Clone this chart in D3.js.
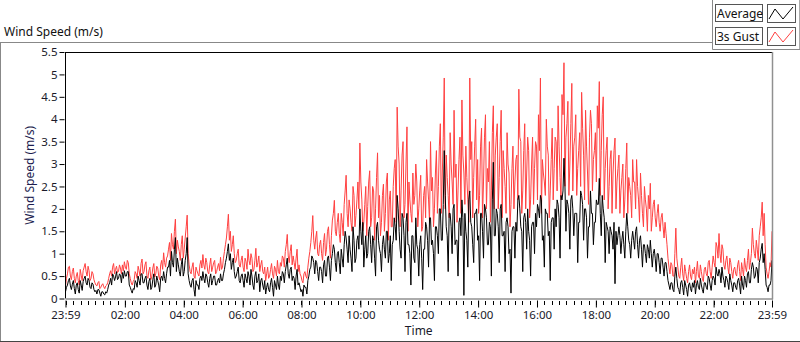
<!DOCTYPE html>
<html>
<head>
<meta charset="utf-8">
<script src="https://cdn.jsdelivr.net/npm/d3@7"></script>
<style>
  body { margin: 0; background: #fff; }
  text { font-family: "Noto Sans", "Open Sans", sans-serif; }
</style>
</head>
<body>
<div id="chart"></div>
<script>
// samples every 2 minutes from 23:59 to 23:59 the next day.
// "gust"/"average" hold the even samples, "...Mid" the samples in between.
const stepMinutes = 2;

const gust = [
  0.28, 0.55, 0.72, 0.42, 0.68, 0.35, 0.58, 0.3, 0.52, 0.62,
  0.78, 0.5, 0.62, 0.45, 0.55, 0.35, 0.28, 0.38, 0.25, 0.33,
  0.22, 0.3, 0.45, 0.62, 0.7, 0.55, 0.72, 0.6, 0.68, 0.75,
  0.82, 0.65, 0.8, 0.45, 0.3, 0.42, 0.55, 0.72, 0.5, 0.88,
  0.6, 0.82, 0.45, 0.7, 0.5, 0.78, 0.55, 0.68, 0.42, 0.85,
  1.02, 0.7, 0.95, 1.25, 1.45, 1.1, 1.77, 1.3, 1.05, 1.2,
  0.9, 1.35, 1.86, 0.75, 0.55, 0.8, 0.45, 0.62, 0.5, 0.85,
  0.98, 0.65, 0.8, 0.55, 0.9, 0.7, 0.85, 0.6, 0.78, 0.92,
  0.7, 1.05, 1.35, 1.88, 1.5, 1.2, 1.0, 0.85, 1.1, 0.7,
  0.95, 0.6, 0.82, 1.1, 0.75, 0.9, 0.65, 1.12, 0.8, 0.6,
  0.85, 0.55, 0.4, 0.7, 0.5, 0.78, 0.45, 0.65, 0.85, 0.55,
  0.72, 0.9, 1.05, 1.43, 0.8, 1.2, 0.95, 0.65, 1.1, 0.75,
  0.5, 0.35, 0.6, 0.45, 0.9, 1.25, 1.85, 1.1, 1.5, 0.95,
  1.3, 0.85, 1.45, 1.1, 1.6, 0.9, 1.75, 2.19, 1.4, 1.9,
  1.25, 1.7, 2.1, 2.75, 1.6, 2.0, 1.5, 2.3, 1.85, 2.6,
  3.47, 2.2, 1.7, 2.5, 2.05, 2.85, 1.8, 2.4, 2.0, 3.25,
  2.3, 1.7, 2.55, 1.9, 2.8, 2.2, 1.6, 2.5, 3.1, 4.27,
  3.0, 2.4, 3.5, 2.1, 3.83, 2.6, 1.9, 2.8, 2.3, 2.6,
  2.0, 2.75, 1.6, 2.5, 3.1, 2.2, 3.5, 2.7, 2.0, 3.3,
  2.5, 3.9, 2.8, 4.92, 3.2, 2.3, 3.7, 2.6, 4.2, 3.0,
  2.4, 3.6, 4.43, 2.8, 3.4, 2.2, 4.92, 3.5, 2.7, 4.0,
  3.1, 2.3, 3.8, 2.6, 4.1, 2.9, 3.5, 2.4, 4.3, 3.2,
  3.9, 2.7, 4.2, 3.3, 2.5, 3.7, 2.8, 2.1, 3.4, 2.6,
  3.2, 4.67, 3.5, 2.4, 3.9, 2.8, 3.3, 2.2, 3.6, 2.9,
  3.4, 4.1, 4.92, 3.1, 2.6, 4.0, 3.2, 2.4, 3.8, 2.9,
  3.5, 4.3, 2.7, 4.55, 5.26, 3.6, 4.4, 3.0, 4.8, 3.4,
  4.1, 2.9, 3.7, 4.6, 3.2, 4.2, 2.8, 3.6, 3.9, 3.1,
  3.7, 4.3, 4.84, 3.3, 4.5, 2.9, 3.6, 2.5, 3.3, 2.8,
  3.58, 2.6, 3.2, 2.4, 3.0, 2.2, 3.47, 2.7, 2.3, 3.1,
  2.6, 3.1, 2.2, 2.8, 1.9, 2.5, 2.0, 2.3, 2.57, 1.8,
  2.2, 1.6, 2.1, 1.5, 1.9, 1.35, 1.45, 0.9, 0.55, 0.75,
  0.5, 1.57, 0.7, 0.45, 0.9, 0.4, 0.6, 0.35, 0.75, 0.42,
  0.55, 0.35, 0.83, 0.45, 0.6, 0.38, 0.7, 0.5, 0.85, 0.45,
  0.95, 0.7, 1.15, 1.45, 0.8, 1.1, 0.65, 0.95, 0.55, 0.8,
  0.45, 0.7, 0.5, 0.85, 0.4, 0.65, 0.9, 0.6, 1.1, 0.8,
  1.57, 1.0, 1.3, 0.85, 1.6, 2.15, 1.9, 0.7, 0.45, 0.8, 1.5
];

const gustMid = [
  0.45, 0.7, 0.5, 0.6, 0.45, 0.5, 0.4, 0.65, 0.4, 0.7,
  0.6, 0.72, 0.4, 0.6, 0.42, 0.3, 0.35, 0.22, 0.3, 0.26,
  0.28, 0.35, 0.55, 0.5, 0.78, 0.65, 0.58, 0.75, 0.55, 0.62,
  0.7, 0.85, 0.55, 0.35, 0.38, 0.6, 0.45, 0.62, 0.78, 0.55,
  0.75, 0.5, 0.62, 0.42, 0.68, 0.48, 0.72, 0.5, 0.75, 0.65,
  0.8, 0.9, 1.1, 0.85, 1.2, 1.5, 1.0, 1.15, 0.85, 1.4,
  1.1, 1.6, 1.0, 0.6, 0.7, 0.5, 0.7, 0.55, 0.75, 0.68,
  0.75, 0.9, 0.6, 0.75, 0.6, 0.8, 0.55, 0.7, 0.62, 0.65,
  0.9, 1.2, 1.6, 1.3, 1.05, 1.4, 0.8, 1.0, 0.75, 0.85,
  0.7, 0.9, 0.65, 0.85, 1.0, 0.6, 0.85, 0.7, 0.95, 0.75,
  0.6, 0.7, 0.55, 0.45, 0.65, 0.55, 0.72, 0.5, 0.6, 0.8,
  0.95, 0.7, 1.2, 0.95, 1.05, 0.75, 0.8, 0.9, 0.6, 0.55,
  0.4, 0.55, 0.5, 0.7, 1.05, 1.5, 1.3, 1.35, 1.0, 1.2,
  1.0, 1.25, 0.95, 1.5, 1.2, 1.4, 1.9, 1.5, 1.7, 1.45,
  1.9, 1.4, 2.4, 1.9, 2.2, 1.7, 2.5, 1.6, 2.2, 2.0,
  2.6, 1.5, 2.1, 1.4, 2.6, 1.6, 2.5, 1.3, 2.7, 1.8,
  1.4, 2.3, 1.5, 2.6, 1.3, 2.4, 1.6, 2.9, 1.7, 3.4,
  1.6, 3.2, 1.8, 3.0, 1.5, 2.2, 1.7, 2.1, 3.0, 1.6,
  2.4, 1.5, 2.3, 1.8, 2.6, 1.7, 2.4, 1.6, 2.8, 1.9,
  3.4, 1.9, 3.6, 2.0, 2.7, 1.8, 3.0, 2.1, 2.7, 1.7,
  3.1, 1.9, 3.2, 2.1, 2.7, 1.7, 3.1, 1.8, 3.4, 2.2,
  1.9, 3.4, 1.8, 3.6, 2.0, 2.6, 1.7, 3.7, 2.0, 3.6,
  2.0, 3.5, 1.8, 2.9, 1.9, 3.0, 1.6, 2.9, 2.0, 3.1,
  2.2, 3.6, 1.9, 3.3, 2.0, 3.6, 1.8, 3.0, 2.1, 3.5,
  2.2, 3.3, 1.9, 2.8, 2.3, 3.4, 1.8, 3.1, 2.2, 3.6,
  2.4, 3.4, 2.2, 4.1, 2.5, 3.9, 2.3, 3.9, 2.4, 3.6,
  2.3, 3.3, 2.5, 3.8, 2.2, 3.4, 2.1, 4.2, 2.4, 3.3,
  2.6, 3.8, 2.3, 4.1, 2.2, 3.3, 2.0, 3.1, 1.9, 3.3,
  2.0, 2.9, 1.9, 2.7, 1.8, 2.9, 1.9, 2.5, 1.8, 2.6,
  2.0, 2.5, 1.7, 2.3, 1.6, 2.2, 1.5, 2.0, 1.5, 2.1,
  1.8, 1.9, 1.7, 1.8, 1.6, 1.7, 1.2, 0.7, 0.8, 0.5,
  1.0, 0.9, 0.5, 0.7, 0.55, 0.75, 0.45, 0.6, 0.5, 0.65,
  0.7, 0.6, 0.5, 0.75, 0.45, 0.65, 0.55, 0.8, 0.6, 0.7,
  0.8, 1.25, 0.9, 1.0, 1.2, 0.75, 0.85, 0.7, 0.9, 0.6,
  0.65, 0.55, 0.75, 0.6, 0.8, 0.5, 0.7, 0.85, 0.65, 1.0,
  1.2, 0.9, 1.1, 1.4, 1.8, 1.4, 1.2, 0.55, 0.6, 0.7
];

const average = [
  0.15, 0.3, 0.45, 0.2, 0.4, 0.1, 0.35, 0.12, 0.3, 0.38,
  0.5, 0.3, 0.4, 0.22, 0.32, 0.15, 0.1, 0.2, 0.05, 0.15,
  0.08, 0.12, 0.3, 0.45, 0.55, 0.4, 0.6, 0.45, 0.52, 0.58,
  0.62, 0.5, 0.6, 0.25, 0.12, 0.2, 0.35, 0.5, 0.3, 0.55,
  0.35, 0.5, 0.2, 0.45, 0.25, 0.55, 0.3, 0.4, 0.15, 0.5,
  0.6, 0.35, 0.7, 0.85, 1.05, 0.7, 1.36, 0.9, 0.6, 0.75,
  0.5, 0.85, 1.36, 0.4, 0.25, 0.45, 0.05, 0.3, 0.2, 0.5,
  0.6, 0.35, 0.5, 0.25, 0.55, 0.4, 0.5, 0.3, 0.45, 0.55,
  0.4, 0.65, 0.9, 1.22, 1.0, 0.8, 0.6, 0.5, 0.7, 0.35,
  0.55, 0.25, 0.45, 0.6, 0.3, 0.5, 0.2, 0.6, 0.4, 0.15,
  0.45, 0.2, 0.1, 0.35, 0.15, 0.45, 0.05, 0.3, 0.5, 0.2,
  0.4, 0.55, 0.6, 0.9, 0.45, 0.7, 0.5, 0.2, 0.65, 0.35,
  0.15, 0.05, 0.25, 0.1, 0.5, 0.7, 0.9, 0.55, 0.8, 0.4,
  0.7, 0.35, 0.85, 0.5, 0.95, 0.4, 1.0, 1.1, 0.6, 1.05,
  0.55, 0.9, 1.2, 1.35, 0.8, 1.1, 0.6, 1.3, 0.9, 1.4,
  2.0, 1.2, 0.7, 1.4, 1.0, 1.6, 0.8, 1.3, 0.5, 1.7,
  1.1, 0.6, 1.4, 0.9, 1.5, 1.0, 0.4, 1.3, 1.6, 2.3,
  1.5, 0.9, 1.8, 0.6, 1.9, 1.2, 0.3, 1.4, 0.8, 1.2,
  0.5, 1.4, 0.2, 1.1, 1.6, 0.7, 1.8, 1.3, 0.4, 1.6,
  1.0, 2.0, 1.3, 3.3, 1.6, 0.6, 1.9, 1.0, 2.1, 1.3,
  0.5, 1.8, 2.2, 0.07, 1.5, 0.7, 2.4, 1.6, 0.8, 1.9,
  1.3, 0.4, 1.9, 0.9, 2.0, 1.2, 1.7, 0.5, 3.04, 1.4,
  1.9, 0.8, 2.1, 1.4, 0.6, 1.8, 1.0, 0.12, 1.6, 0.9,
  1.5, 2.3, 1.6, 0.6, 1.9, 1.1, 1.5, 0.5, 1.7, 1.0,
  1.6, 2.0, 2.3, 1.3, 0.7, 1.9, 1.4, 0.4, 1.8, 1.1,
  1.6, 2.1, 0.9, 2.2, 3.13, 1.5, 2.1, 1.1, 2.3, 1.4,
  1.9, 0.8, 1.7, 2.3, 1.3, 2.0, 0.9, 1.6, 1.9, 1.2,
  1.7, 2.1, 2.68, 1.4, 2.0, 0.8, 1.6, 1.0, 1.5, 1.1,
  0.33, 1.2, 1.6, 1.0, 1.5, 0.9, 1.9, 1.3, 0.9, 1.5,
  1.1, 1.6, 0.9, 1.4, 0.7, 1.2, 0.8, 1.1, 1.3, 0.7,
  1.1, 0.6, 1.0, 0.55, 0.9, 0.5, 0.8, 0.4, 0.2, 0.35,
  0.15, 0.7, 0.25, 0.1, 0.4, 0.08, 0.3, 0.05, 0.35, 0.15,
  0.25, 0.1, 0.4, 0.2, 0.3, 0.12, 0.35, 0.2, 0.45, 0.18,
  0.5, 0.3, 0.55, 0.65, 0.35, 0.5, 0.25, 0.45, 0.2, 0.4,
  0.15, 0.35, 0.2, 0.45, 0.1, 0.3, 0.5, 0.25, 0.6, 0.35,
  0.8, 0.45, 0.7, 0.35, 0.9, 1.23, 1.0, 0.3, 0.15, 0.3, 0.85
];

const averageMid = [
  0.25, 0.4, 0.28, 0.32, 0.22, 0.3, 0.2, 0.4, 0.18, 0.45,
  0.35, 0.45, 0.25, 0.35, 0.2, 0.18, 0.2, 0.12, 0.15, 0.1,
  0.15, 0.2, 0.35, 0.3, 0.5, 0.48, 0.42, 0.55, 0.35, 0.45,
  0.5, 0.6, 0.3, 0.18, 0.22, 0.4, 0.25, 0.4, 0.55, 0.35,
  0.45, 0.3, 0.38, 0.2, 0.42, 0.25, 0.5, 0.3, 0.45, 0.4,
  0.45, 0.55, 0.7, 0.5, 0.8, 1.1, 0.6, 0.75, 0.5, 0.9,
  0.6, 1.0, 0.55, 0.3, 0.4, 0.2, 0.4, 0.3, 0.45, 0.4,
  0.45, 0.55, 0.35, 0.45, 0.3, 0.5, 0.3, 0.4, 0.35, 0.4,
  0.55, 0.8, 1.05, 0.85, 0.65, 0.9, 0.45, 0.6, 0.4, 0.5,
  0.4, 0.55, 0.35, 0.5, 0.65, 0.3, 0.5, 0.35, 0.55, 0.4,
  0.3, 0.4, 0.25, 0.2, 0.35, 0.25, 0.4, 0.2, 0.3, 0.5,
  0.6, 0.35, 0.75, 0.55, 0.65, 0.4, 0.45, 0.5, 0.3, 0.25,
  0.2, 0.3, 0.25, 0.4, 0.65, 0.95, 0.8, 0.85, 0.6, 0.7,
  0.6, 0.75, 0.5, 0.9, 0.7, 0.85, 1.2, 0.8, 1.0, 0.8,
  1.1, 0.7, 1.5, 1.1, 1.4, 0.9, 1.6, 0.8, 1.3, 1.1,
  1.5, 1.7, 1.1, 0.9, 1.5, 1.2, 1.4, 0.9, 1.6, 1.3,
  1.0, 1.2, 1.1, 1.5, 0.8, 1.4, 1.2, 1.8, 1.3, 2.0,
  1.1, 1.9, 1.4, 1.7, 1.2, 1.0, 1.4, 0.9, 1.8, 1.1,
  1.2, 0.9, 1.1, 1.7, 1.3, 1.8, 1.2, 1.0, 1.6, 1.4,
  2.0, 1.3, 2.1, 2.3, 1.4, 1.9, 1.6, 2.0, 1.2, 1.3,
  1.7, 1.4, 1.8, 1.9, 1.3, 2.2, 1.7, 1.2, 1.9, 2.0,
  1.4, 1.9, 1.5, 2.1, 1.8, 1.2, 1.6, 2.2, 1.4, 2.0,
  1.6, 2.0, 1.4, 1.5, 1.7, 1.6, 1.1, 1.5, 1.6, 1.7,
  2.2, 2.0, 1.5, 1.8, 1.7, 2.0, 1.3, 1.6, 1.7, 1.9,
  2.1, 1.8, 2.2, 1.4, 2.0, 1.9, 1.5, 1.7, 1.8, 2.0,
  2.2, 1.8, 2.3, 2.4, 2.5, 2.2, 1.9, 2.2, 2.0, 1.9,
  1.9, 1.7, 2.4, 2.1, 2.0, 1.8, 1.6, 2.4, 1.9, 1.7,
  2.2, 2.1, 1.9, 2.3, 1.8, 1.7, 1.5, 1.6, 1.4, 1.7,
  1.5, 1.4, 1.4, 1.3, 1.2, 1.5, 1.6, 1.2, 1.3, 1.3,
  1.5, 1.2, 1.3, 1.1, 1.2, 1.0, 1.2, 0.9, 1.0, 1.0,
  0.9, 1.0, 0.8, 0.9, 0.7, 0.8, 0.6, 0.3, 0.35, 0.2,
  0.5, 0.45, 0.2, 0.35, 0.25, 0.4, 0.2, 0.3, 0.22, 0.35,
  0.4, 0.3, 0.25, 0.45, 0.2, 0.35, 0.25, 0.5, 0.3, 0.4,
  0.45, 0.7, 0.5, 0.55, 0.7, 0.4, 0.5, 0.35, 0.55, 0.3,
  0.35, 0.25, 0.4, 0.3, 0.5, 0.2, 0.4, 0.55, 0.35, 0.65,
  0.7, 0.5, 0.65, 0.8, 1.1, 0.8, 0.65, 0.25, 0.3, 0.4
];

const yTicks = [0, 0.5, 1, 1.5, 2, 2.5, 3, 3.5, 4, 4.5, 5, 5.5];
const xTickLabels = ["23:59", "02:00", "04:00", "06:00", "08:00", "10:00", "12:00",
                     "14:00", "16:00", "18:00", "20:00", "22:00", "23:59"];
const legendNames = ["Average", "3s Gust"];
const legendColors = ["#000000", "#ff4040"];

// put the even and in-between samples back in time order
function interleave(even, mid) {
    const out = [];
    even.forEach((v, i) => {
        out.push(v);
        if (i < mid.length) out.push(mid[i]);
    });
    return out;
}

function main() {
    const width = 800, height = 342;
    const plot = {left: 65.5, right: 772, top: 52, bottom: 298.5};

    const gustSeries = interleave(gust, gustMid);
    const averageSeries = interleave(average, averageMid);

    const svg = d3.select("#chart")
        .append("svg")
        .attr("width", width)
        .attr("height", height);

    const start = new Date(2020, 0, 1, 23, 59);
    const end = new Date(2020, 0, 2, 23, 59);
    const times = gustSeries.map((d, i) => d3.timeMinute.offset(start, i * stepMinutes));

    const xScale = d3.scaleTime().domain([start, end]).range([plot.left, plot.right]);
    const yScale = d3.scaleLinear().domain([0, 5.5]).range([plot.bottom, plot.top]);

    // outer panel frame
    svg.append("line").attr("x1", 0).attr("x2", 712).attr("y1", 42.5).attr("y2", 42.5)
        .attr("stroke", "#888");
    svg.append("line").attr("x1", 0.5).attr("x2", 0.5).attr("y1", 42).attr("y2", 342)
        .attr("stroke", "#888");
    svg.append("line").attr("x1", 0).attr("x2", 800).attr("y1", 341.5).attr("y2", 341.5)
        .attr("stroke", "#444");

    svg.append("text")
        .attr("x", 4).attr("y", 36)
        .style("font-size", "12px")
        .attr("fill", "#111")
        .text("Wind Speed (m/s)");

    // plot area
    svg.append("clipPath").attr("id", "clip")
        .append("rect")
        .attr("x", plot.left).attr("y", plot.top)
        .attr("width", plot.right - plot.left).attr("height", plot.bottom - plot.top);

    const line = d3.line()
        .x((d, i) => xScale(times[i]))
        .y(d => yScale(d));

    const lines = svg.append("g").attr("clip-path", "url(#clip)");
    lines.append("path")
        .datum(gustSeries)
        .attr("d", line)
        .attr("fill", "none")
        .attr("stroke", legendColors[1])
        .attr("stroke-width", 1);
    lines.append("path")
        .datum(averageSeries)
        .attr("d", line)
        .attr("fill", "none")
        .attr("stroke", legendColors[0])
        .attr("stroke-width", 1);

    // plot borders: black top/left, grey bottom/right
    svg.append("line").attr("x1", plot.left).attr("x2", plot.right).attr("y1", plot.top + 0.5).attr("y2", plot.top + 0.5)
        .attr("stroke", "#000");
    svg.append("line").attr("x1", plot.left).attr("x2", plot.left).attr("y1", plot.top).attr("y2", plot.bottom)
        .attr("stroke", "#000");
    svg.append("line").attr("x1", plot.left).attr("x2", plot.right + 1).attr("y1", plot.bottom + 0.5).attr("y2", plot.bottom + 0.5)
        .attr("stroke", "#909090").attr("stroke-width", 1.5);
    svg.append("line").attr("x1", plot.right + 0.5).attr("x2", plot.right + 0.5).attr("y1", plot.top).attr("y2", plot.bottom + 1)
        .attr("stroke", "#909090").attr("stroke-width", 1.5);

    // y axis
    const yAxis = svg.append("g")
        .attr("transform", `translate(${plot.left - 1}, 0)`)
        .call(d3.axisLeft(yScale).tickValues(yTicks).tickSize(5).tickPadding(2)
            .tickFormat(d => String(d)));
    yAxis.select(".domain").remove();
    yAxis.selectAll("text").style("font-size", "11.5px").attr("fill", "#1a1a2a");
    yAxis.selectAll(".tick line").attr("stroke", "#000");

    // x axis, minor ticks every 15 minutes
    const minor = d3.timeMinute.every(15).range(d3.timeMinute.offset(start, 1), end);
    svg.append("g").selectAll("line")
        .data(minor)
        .enter()
        .append("line")
        .attr("x1", d => Math.round(xScale(d)) + 0.5)
        .attr("x2", d => Math.round(xScale(d)) + 0.5)
        .attr("y1", plot.bottom + 2.5)
        .attr("y2", plot.bottom + 6.5)
        .attr("stroke", "#000");

    const majorTimes = xTickLabels.map((label, i) => {
        if (i === 0) return start;
        if (i === xTickLabels.length - 1) return end;
        return d3.timeHour.offset(new Date(2020, 0, 2, 0, 0), i * 2);
    });
    const xAxis = svg.append("g")
        .attr("transform", `translate(0, ${plot.bottom + 2})`)
        .call(d3.axisBottom(xScale).tickValues(majorTimes).tickSize(7).tickPadding(3)
            .tickFormat((d, i) => xTickLabels[i]));
    xAxis.select(".domain").remove();
    xAxis.selectAll("text").style("font-size", "11.5px").attr("fill", "#1a1a2a");
    xAxis.selectAll(".tick line").attr("stroke", "#000");

    svg.append("text")
        .attr("x", (plot.left + plot.right) / 2)
        .attr("y", 335)
        .attr("text-anchor", "middle")
        .style("font-size", "12px")
        .attr("fill", "#1a1a2a")
        .text("Time");

    svg.append("text")
        .attr("transform", `translate(34, ${(plot.top + plot.bottom) / 2}) rotate(-90)`)
        .attr("text-anchor", "middle")
        .style("font-size", "12px")
        .attr("fill", "#1e1e50")
        .text("Wind Speed (m/s)");

    // legend
    const legend = svg.append("g");
    legend.append("path")
        .attr("d", "M712.5,0 V49.5 H800")
        .attr("fill", "none")
        .attr("stroke", "#888");
    legend.append("line").attr("x1", 799.5).attr("x2", 799.5).attr("y1", 0).attr("y2", 49)
        .attr("stroke", "#aaa");

    legendNames.forEach((name, i) => {
        const y0 = 4 + i * 23;
        legend.append("rect")
            .attr("x", 715.5).attr("y", y0 + 0.5)
            .attr("width", 47).attr("height", 17)
            .attr("fill", "#fff").attr("stroke", "#555");
        legend.append("text")
            .attr("x", 717).attr("y", y0 + 14)
            .style("font-size", "12px")
            .attr("fill", "#111")
            .text(name);
        legend.append("rect")
            .attr("x", 767.5).attr("y", y0 + 0.5)
            .attr("width", 28).attr("height", 18)
            .attr("fill", "#fff").attr("stroke", "#555");
        legend.append("path")
            .attr("d", `M769,${y0 + 15} L775,${y0 + 5} L783,${y0 + 15} L793,${y0 + 3}`)
            .attr("fill", "none")
            .attr("stroke", legendColors[i]);
    });
}

main();
</script>
</body>
</html>
